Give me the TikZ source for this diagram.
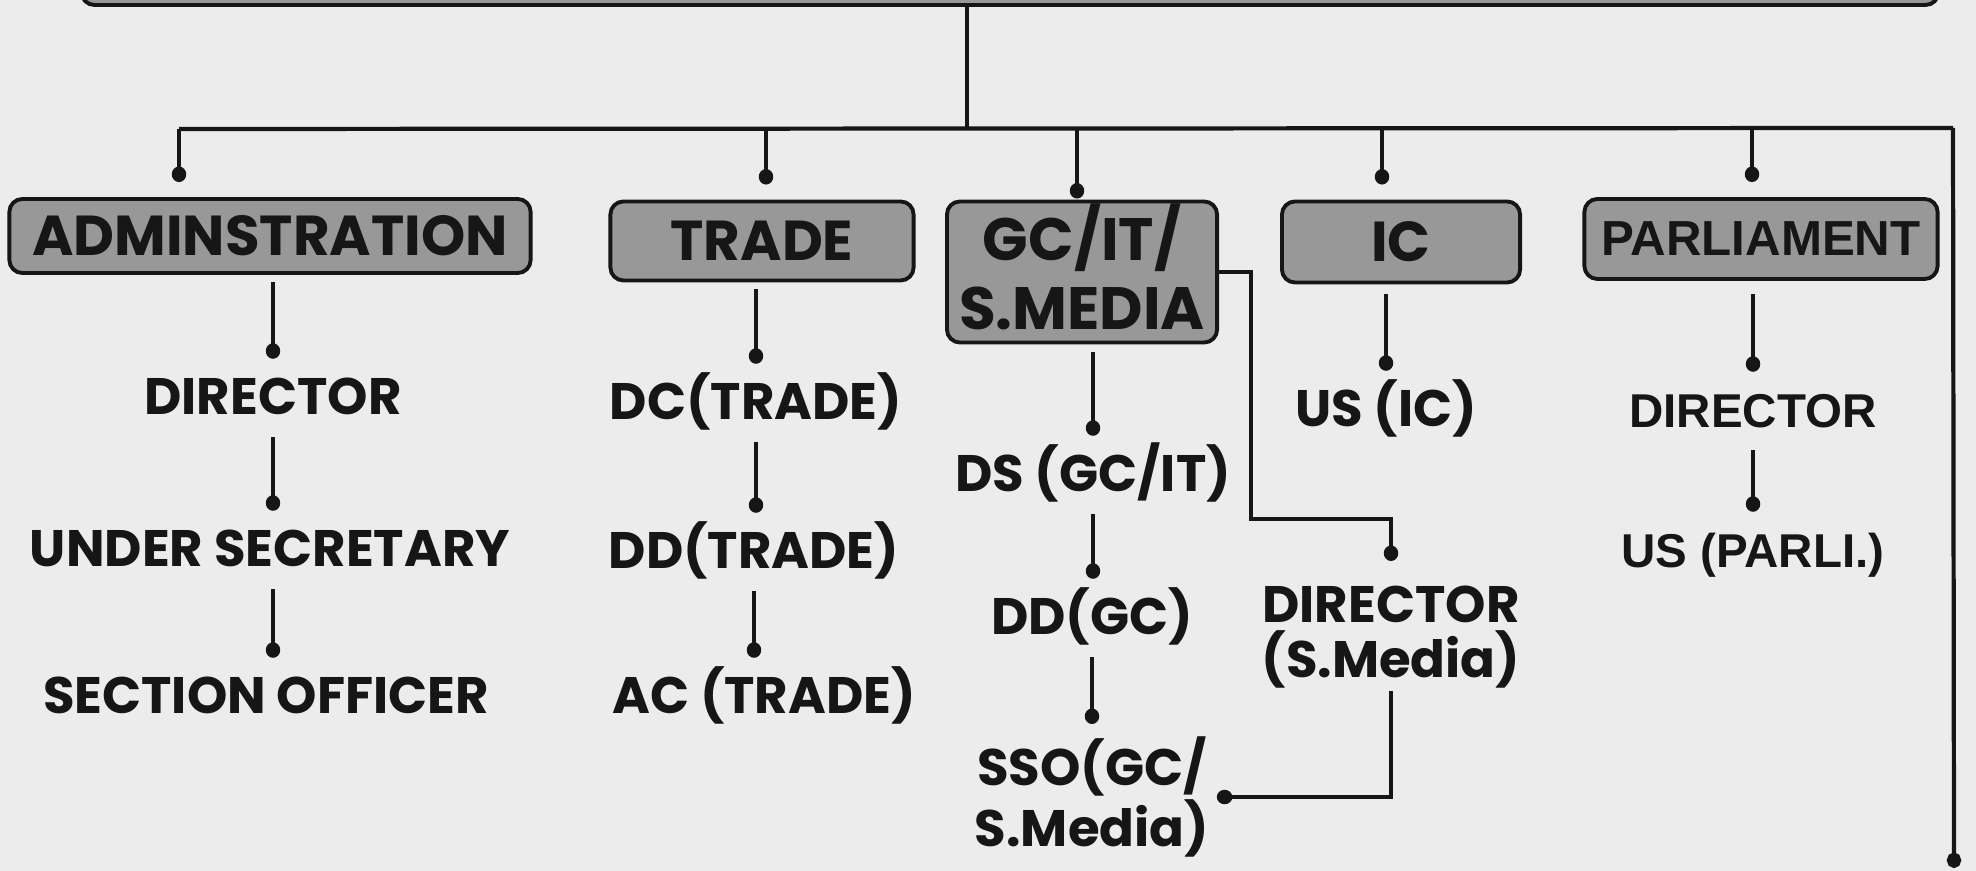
\documentclass[tikz,border=0pt]{standalone}
\usepackage{fontspec}
\setmainfont{Poppins}
\newfontfamily\arialf{Liberation Sans}
\usetikzlibrary{arrows.meta,calc}
\definecolor{bgc}{RGB}{236,236,236}
\definecolor{boxc}{RGB}{152,152,152}
\definecolor{ink}{RGB}{22,22,22}
\begin{document}
\begin{tikzpicture}[x=0.01cm,y=-0.01cm,
  box/.style={draw=ink, line width=1.1pt, fill=boxc, rounded corners=0.13cm, inner sep=0pt,
    font=\fontsize{16}{19.6}\selectfont\bfseries, text=ink, align=center},
  lbl/.style={inner xsep=2pt, inner ysep=0.22cm, text height=0.33cm, text depth=0pt,
    font=\fontsize{14.6}{16}\selectfont\bfseries, text=ink},
  lbltwo/.style={inner xsep=2pt, inner ysep=0.12cm, align=center,
    font=\fontsize{14.6}{15.6}\selectfont\bfseries, text=ink},
  arlbl/.style={lbl, font=\arialf\fontsize{13.5}{16}\selectfont\bfseries},
  conn/.style={draw=ink, line width=0.9pt},
  bus/.style={draw=ink, line width=1.2pt},
  dot/.style={-{Circle[length=4.4pt,width=4.1pt]}}
]
\fill[bgc] (0,0) rectangle (1976,871);
\useasboundingbox (0,0) rectangle (1976,871);

% boxes
\node[box, minimum width=18.56cm, minimum height=1cm] (top) at (1010,-45) {};
\node[box, minimum width=5.21cm, minimum height=0.74cm] (adm) at (270,236) {ADMINSTRATION};
\node[box, minimum width=3.03cm, minimum height=0.79cm] (trade) at (762,241) {TRADE};
\node[box, minimum width=2.70cm, minimum height=1.41cm, font=\fontsize{17}{19.6}\selectfont\bfseries]
  (gc) at (1082,272) {\raisebox{-0.2cm}[0pt][0pt]{\begin{tabular}{@{}c@{}}GC/IT/\\S.MEDIA\end{tabular}}};
\node[box, minimum width=2.38cm, minimum height=0.81cm] (ic) at (1401,242) {IC};
\node[box, minimum width=3.53cm, minimum height=0.80cm,
      font=\arialf\fontsize{14}{16}\selectfont\bfseries] (parl) at (1761,239) {PARLIAMENT};

% labels
\node[lbl] (adir) at (273,398) {DIRECTOR};
\node[lbl] (aus) at (270,550) {UNDER SECRETARY};
\node[lbl] (aso) at (266,697) {SECTION OFFICER};
\node[lbl] (tdc) at (756,403) {DC(TRADE)};
\node[lbl] (tdd) at (754,552) {DD(TRADE)};
\node[lbl] (tac) at (764,697) {AC (TRADE)};
\node[lbl] (gds) at (1093,475) {DS (GC/IT)};
\node[lbl] (gdd) at (1092,618) {DD(GC)};
\node[lbltwo, anchor=north] (gsso) at (1092,724) {SSO(GC/\\S.Media)};
\node[lbltwo, inner ysep=0.24cm, anchor=north] (gdir) at (1391,561) {DIRECTOR\\(S.Media)};
\node[lbl] (ius) at (1386,410) {US (IC)};
\node[arlbl] (pdir) at (1753,411) {DIRECTOR};
\node[arlbl] (pus) at (1753,551) {US (PARLI.)};

% bus
\coordinate (stem) at (967,129);
\coordinate (d1) at (179,129);
\coordinate (d2) at (766,129);
\coordinate (d3) at (1077,129);
\coordinate (d4) at (1382,129);
\coordinate (d5) at (1752,129);
\coordinate (dR) at (1953,128);
\coordinate (rend) at (1954,868);
\coordinate (elb) at (1251,519);

\draw[conn] (top.south -| stem) -- (stem);
\draw[bus] (d1) -- (dR);
\draw[bus,dot] (dR) -- (rend);
\draw[conn,dot] (d1) -- ($(adm.north -| d1)+(0,-15)$);
\draw[conn,dot] (d2) -- ($(trade.north -| d2)+(0,-15)$);
\draw[conn,dot] (d3) -- ($(gc.north -| d3)+(0,-1)$);
\draw[conn,dot] (d4) -- ($(ic.north -| d4)+(0,-15)$);
\draw[conn,dot] (d5) -- ($(parl.north -| d5)+(0,-15)$);

% columns
\draw[conn,dot] ($(adm.south -| adir)+(0,7)$) -- (adir.north);
\draw[conn,dot] (adir.south) -- (adir.south |- aus.north);
\draw[conn,dot] (aus.south -| adir) -- (adir |- aso.north);

\draw[conn,dot] ($(trade.south -| tdc)+(0,7)$) -- (tdc.north);
\draw[conn,dot] (tdc.south) -- (tdc.south |- tdd.north);
\draw[conn,dot] (tdd.south) -- (tdd.south |- tac.north);

\draw[conn,dot] ($(gc.south -| gds)+(0,8)$) -- (gds.north);
\draw[conn,dot] (gds.south) -- (gds.south |- gdd.north);
\draw[conn,dot] (gdd.south) -- (gsso.north);

\draw[conn,dot] (gc.east) -| (elb) -| (gdir.north);
\draw[conn,dot] ($(gdir.south)+(0,-22)$) -- (gdir.south |- gsso.east) -- (gsso.east);

\draw[conn,dot] ($(ic.south -| ius)+(0,10)$) -- (ius.north);

\draw[conn,dot] ($(parl.south -| pdir)+(0,13)$) -- (pdir.north);
\draw[conn,dot] (pdir.south) -- (pdir.south |- pus.north);
\end{tikzpicture}
\end{document}
